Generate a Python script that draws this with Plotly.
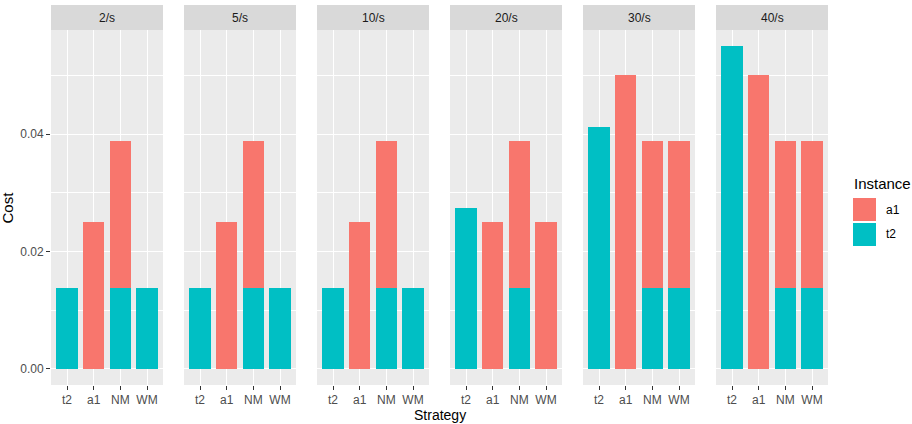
import plotly.graph_objects as go

facets = ["2/s", "5/s", "10/s", "20/s", "30/s", "40/s"]
strategies = ["t2", "a1", "NM", "WM"]
t2_cost = [
    [0.01375, 0, 0.01375, 0.01375],
    [0.01375, 0, 0.01375, 0.01375],
    [0.01375, 0, 0.01375, 0.01375],
    [0.0275, 0, 0.01375, 0],
    [0.04125, 0, 0.01375, 0.01375],
    [0.055, 0, 0.01375, 0.01375],
]
a1_cost = [
    [0, 0.025, 0.025, 0],
    [0, 0.025, 0.025, 0],
    [0, 0.025, 0.025, 0],
    [0, 0.025, 0.025, 0.025],
    [0, 0.05, 0.025, 0.025],
    [0, 0.05, 0.025, 0.025],
]
instances = ["a1", "t2"]
colors = {"a1": "#F8766D", "t2": "#00BFC4"}

W, H = 912, 424
L, R, T, B = 51, 84, 5, 39
pw = W - L - R
ph = H - T - B
panel_w, gap = 112, 21
strip_h = 25
ytop = (ph - strip_h) / ph

FONT = "Liberation Sans, Arial, sans-serif"

def px_x(px):
    return (px - L) / pw

def px_y(py):
    return (H - B - py) / ph

fig = go.Figure()
layout = dict(
    width=W, height=H,
    margin=dict(l=L, r=R, t=T, b=B),
    paper_bgcolor="white",
    plot_bgcolor="#EBEBEB",
    barmode="stack",
    bargap=0.2,
    showlegend=False,
    font=dict(family=FONT, color="#4D4D4D", size=12),
)
shapes, annotations = [], []
ymax = max(max(t + a for t, a in zip(tr, ar)) for tr, ar in zip(t2_cost, a1_cost))
yr = [-0.05 * ymax, 1.05 * ymax]

for i, fac in enumerate(facets):
    n = "" if i == 0 else str(i + 1)
    xa, ya = "x" + n, "y" + n
    fig.add_trace(go.Bar(x=strategies, y=t2_cost[i], name="t2", marker=dict(color=colors["t2"], line=dict(width=0)),
                         xaxis=xa, yaxis=ya, width=0.8))
    fig.add_trace(go.Bar(x=strategies, y=a1_cost[i], name="a1", marker=dict(color=colors["a1"], line=dict(width=0)),
                         xaxis=xa, yaxis=ya, width=0.8))
    x0 = i * (panel_w + gap) / pw
    x1 = (i * (panel_w + gap) + panel_w) / pw
    layout["xaxis" + n] = dict(
        domain=[x0, x1], anchor=ya, type="category", categoryorder="array", categoryarray=strategies,
        range=[-0.6, 3.6], showgrid=True, gridcolor="white", gridwidth=1.3,
        ticks="outside", ticklen=4, tickcolor="#333333", tickwidth=1,
        tickfont=dict(family=FONT, size=12, color="#4D4D4D"), showline=False, zeroline=False,
        fixedrange=True,
    )
    layout["yaxis" + n] = dict(
        domain=[0, ytop], anchor=xa, range=yr, tick0=0, dtick=0.02, tickformat=".2f",
        showgrid=True, gridcolor="white", gridwidth=1.3,
        minor=dict(dtick=0.01, showgrid=True, gridcolor="white", gridwidth=0.6),
        zeroline=False, showline=False,
        ticks="outside" if i == 0 else "", ticklen=4, tickcolor="#333333", tickwidth=1,
        showticklabels=(i == 0), tickfont=dict(family=FONT, size=12, color="#4D4D4D"),
        fixedrange=True,
    )
    if i > 0:
        layout["yaxis" + n]["matches"] = "y"
    shapes.append(dict(type="rect", xref="paper", yref="paper", x0=x0, x1=x1, y0=ytop, y1=1,
                       fillcolor="#D9D9D9", line=dict(width=0), layer="below"))
    annotations.append(dict(text=fac, xref="paper", yref="paper", x=(x0 + x1) / 2, y=(1 + ytop) / 2,
                            xanchor="center", yanchor="middle", showarrow=False,
                            font=dict(family=FONT, size=12, color="#1A1A1A")))

# axis titles
annotations.append(dict(text="Cost", xref="paper", yref="paper", x=px_x(7), y=ytop / 2, textangle=-90,
                        xanchor="center", yanchor="middle", showarrow=False,
                        font=dict(family=FONT, size=15, color="black")))
annotations.append(dict(text="Strategy", xref="paper", yref="paper", x=0.5, y=px_y(406),
                        xanchor="center", yanchor="top", showarrow=False,
                        borderpad=0, font=dict(family=FONT, size=14, color="black")))

# legend (drawn manually, ggplot-style keys)
annotations.append(dict(text="Instance", xref="paper", yref="paper", x=px_x(852), y=px_y(183.5),
                        xanchor="left", yanchor="middle", showarrow=False,
                        font=dict(family=FONT, size=15, color="black")))
for k, inst in enumerate(instances):
    top = 198 + k * 25
    shapes.append(dict(type="rect", xref="paper", yref="paper", x0=px_x(853), x1=px_x(876),
                       y0=px_y(top + 23), y1=px_y(top), fillcolor=colors[inst], line=dict(width=0)))
    annotations.append(dict(text=inst, xref="paper", yref="paper", x=px_x(884), y=px_y(top + 11.5),
                            xanchor="left", yanchor="middle", showarrow=False,
                            font=dict(family=FONT, size=12, color="black")))

layout["shapes"] = shapes
layout["annotations"] = annotations
fig.update_layout(**layout)
fig.write_html("out.html")
